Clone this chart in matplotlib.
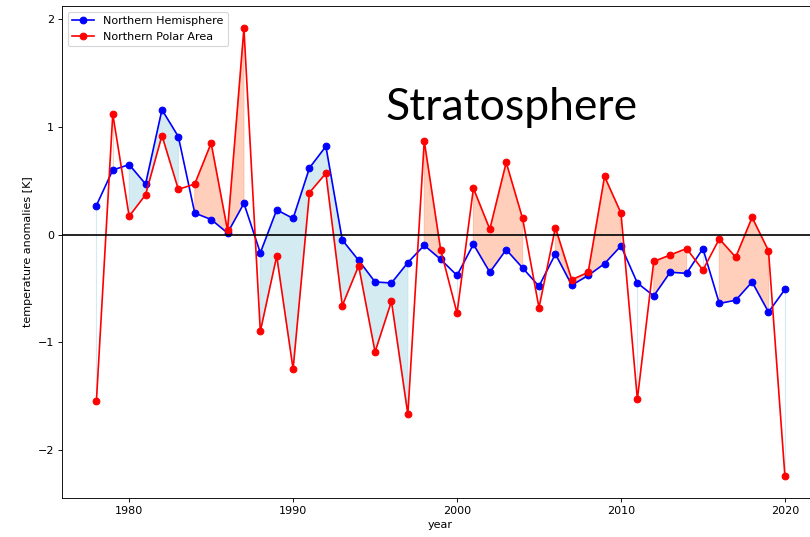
import numpy as np
import matplotlib
matplotlib.use("Agg")
import matplotlib.pyplot as plt

# yearly stratospheric temperature anomalies
years = np.arange(1978, 2021)
north_hemisphere = [0.27, 0.60, 0.65, 0.47, 1.16, 0.91, 0.20, 0.14, 0.015, 0.29,
                    -0.17, 0.23, 0.15, 0.62, 0.82, -0.05, -0.24, -0.44, -0.45, -0.26,
                    -0.10, -0.23, -0.38, -0.09, -0.35, -0.14, -0.31, -0.48, -0.18, -0.47,
                    -0.38, -0.27, -0.105, -0.45, -0.57, -0.35, -0.36, -0.13, -0.64, -0.61,
                    -0.44, -0.72, -0.51]
north_polar = [-1.55, 1.12, 0.17, 0.37, 0.92, 0.42, 0.47, 0.85, 0.04, 1.915,
               -0.90, -0.20, -1.25, 0.39, 0.57, -0.66, -0.29, -1.09, -0.62, -1.67,
               0.87, -0.14, -0.73, 0.43, 0.05, 0.67, 0.15, -0.68, 0.065, -0.42,
               -0.35, 0.54, 0.20, -1.53, -0.25, -0.19, -0.13, -0.33, -0.04, -0.21,
               0.16, -0.15, -2.24]

nh = np.array(north_hemisphere)
np_area = np.array(north_polar)

fig = plt.figure(figsize=(10.125, 6.7125), dpi=80)
ax = fig.add_axes([0.0765, 0.0726, 0.935, 0.916])

# shade where one series lies above the other
ax.fill_between(years, nh, np_area, where=nh > np_area, color='lightblue', alpha=0.5)
ax.fill_between(years, nh, np_area, where=np_area > nh, color='lightsalmon', alpha=0.5)

ax.plot(years, nh, 'bo-', label='Northern Hemisphere')
ax.plot(years, np_area, 'ro-', label='Northern Polar Area')
ax.axhline(0, color='black', lw=1.5)

ax.text(2003.3, 1.18, 'Stratosphere', fontsize=40, family='Lato',
        ha='center', va='center')

ax.set_xlabel('year')
ax.set_ylabel('temperature anomalies [K]')
ax.legend(loc='upper left')

plt.savefig('out.png', dpi=80)
